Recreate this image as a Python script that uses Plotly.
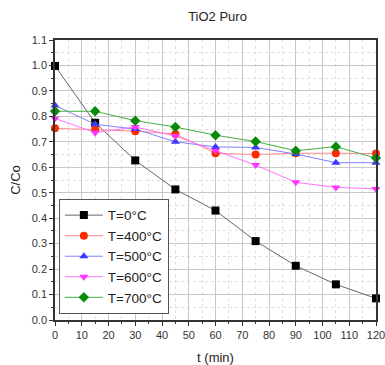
import plotly.graph_objects as go

t = [0, 15, 30, 45, 60, 75, 90, 105, 120]
c_0 = [0.998, 0.775, 0.627, 0.513, 0.430, 0.310, 0.213, 0.140, 0.085]
c_400 = [0.753, 0.748, 0.742, 0.731, 0.655, 0.650, 0.655, 0.655, 0.654]
c_500 = [0.843, 0.769, 0.750, 0.700, 0.680, 0.678, 0.652, 0.618, 0.618]
c_600 = [0.792, 0.736, 0.758, 0.723, 0.665, 0.609, 0.541, 0.521, 0.515]
c_700 = [0.820, 0.820, 0.783, 0.758, 0.726, 0.701, 0.665, 0.681, 0.636]

series = [
    ("T=0°C", c_0, "#666666", "#000000", "square"),
    ("T=400°C", c_400, "#ff8a8a", "#ff2a00", "circle"),
    ("T=500°C", c_500, "#8080ff", "#3a3aff", "triangle-up"),
    ("T=600°C", c_600, "#ff70ff", "#ff33ff", "triangle-down"),
    ("T=700°C", c_700, "#40b040", "#0a8a0a", "diamond"),
]

fig = go.Figure()
for name, y, lc, mc, sym in series:
    fig.add_trace(go.Scatter(
        x=t, y=y, name=name, mode="lines+markers",
        line=dict(color=lc, width=1),
        marker=dict(color=mc, symbol=sym, size=8),
        cliponaxis=False,
    ))

axis_common = dict(
    showline=True, linecolor="#333333", linewidth=1.5, mirror=True,
    ticks="outside", ticklen=4, tickcolor="#333333",
    showgrid=True, gridcolor="#c8c8c8", gridwidth=1,
    tickfont=dict(family="Arial, Liberation Sans", size=11, color="#333333"),
    zeroline=False, automargin=False, ticklabeloverflow="allow",
)

fig.update_xaxes(
    range=[0, 120], dtick=10, tick0=0,
    minor=dict(dtick=5, ticks="outside", ticklen=2, tickcolor="#333333",
               showgrid=True, gridcolor="#e0e0e0", griddash="dot"),
    title=dict(text="t (min)", font=dict(family="Arial, Liberation Sans", size=13, color="#222222"), standoff=14),
    **axis_common,
)
fig.update_yaxes(
    range=[0, 1.1], dtick=0.1, tick0=0, tickformat=".1f",
    minor=dict(dtick=0.05, ticks="outside", ticklen=2, tickcolor="#333333",
               showgrid=True, gridcolor="#e0e0e0", griddash="dot"),
    title=dict(text="C/Co", font=dict(family="Arial, Liberation Sans", size=13, color="#222222"), standoff=8),
    **axis_common,
)

fig.update_layout(
    width=385, height=365,
    margin=dict(l=55, r=9, t=40, b=45),
    paper_bgcolor="white", plot_bgcolor="white",
    title=dict(text="TiO2 Puro", x=0.565, xanchor="center", y=0.955, yanchor="middle",
               font=dict(family="Arial, Liberation Sans", size=13, color="#222222")),
    legend=dict(x=0.012, y=0.022, xanchor="left", yanchor="bottom",
                bgcolor="white", bordercolor="#555555", borderwidth=1,
                font=dict(family="Arial, Liberation Sans", size=13.5, color="#222222"),
                tracegroupgap=0, itemwidth=38),
    showlegend=True,
)

fig.write_html("out.html")
